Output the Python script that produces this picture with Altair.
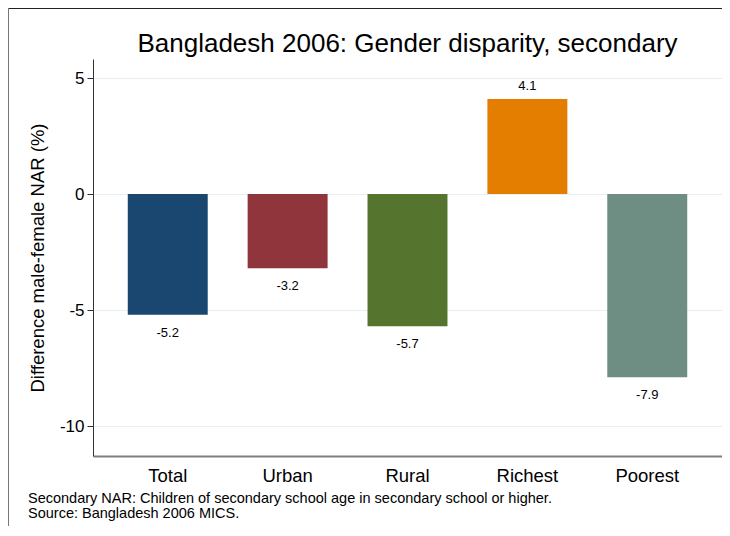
import altair as alt
import pandas as pd

categories = ["Total", "Urban", "Rural", "Richest", "Poorest"]
values = [-5.2, -3.2, -5.7, 4.1, -7.9]
colors = ["#1a476f", "#90353b", "#55752f", "#e37e00", "#6e8e84"]
y_ticks = [-10, -5, 0, 5]
title_text = "Bangladesh 2006: Gender disparity, secondary"
y_title = "Difference male-female NAR (%)"
notes = [
    "Secondary NAR: Children of secondary school age in secondary school or higher.",
    "Source: Bangladesh 2006 MICS.",
]

df = pd.DataFrame({"cat": categories, "val": values})
df["label"] = df["val"].map(lambda v: f"{v:.1f}")

FONT = "Liberation Sans"
W, H = 629, 397

x_enc = alt.X(
    "cat:N",
    sort=categories,
    scale=alt.Scale(paddingInner=0.333, paddingOuter=0.29),
    axis=alt.Axis(
        title=None, labelAngle=0, ticks=False, domainColor="#7f7f7f",
        domainWidth=2, labelFontSize=18.5, labelPadding=10, labelFont=FONT,
        labelColor="#000000",
    ),
)
y_scale = alt.Scale(domain=[-11.29, 5.82], nice=False, zero=False)

base = alt.Chart(df)

bars = base.mark_bar().encode(
    x=x_enc,
    y=alt.Y(
        "val:Q",
        scale=y_scale,
        axis=alt.Axis(
            values=y_ticks, grid=True, gridColor="#e6eef1", gridWidth=1,
            tickSize=6, tickColor="#333333", domainColor="#333333",
            labelFontSize=17, labelPadding=3, labelFont=FONT, labelColor="#000000",
            labelExpr="'' + datum.value",
            title=y_title, titleFontSize=18.5, titleFont=FONT,
            titleFontWeight="normal", titleColor="#000000", titlePadding=12,
        ),
    ),
    y2=alt.datum(0),
    color=alt.Color("cat:N", scale=alt.Scale(domain=categories, range=colors), legend=None),
)

pos_labels = base.transform_filter("datum.val >= 0").mark_text(
    baseline="alphabetic", dy=-9, fontSize=13, font=FONT, color="#000000"
).encode(x=alt.X("cat:N", sort=categories), y=alt.Y("val:Q", scale=y_scale), text="label:N")

neg_labels = base.transform_filter("datum.val < 0").mark_text(
    baseline="alphabetic", dy=22, fontSize=13, font=FONT, color="#000000"
).encode(x=alt.X("cat:N", sort=categories), y=alt.Y("val:Q", scale=y_scale), text="label:N")

one = pd.DataFrame({"title": [title_text], "notes": ["\n".join(notes)]})

title_layer = alt.Chart(one).mark_text(
    align="center", baseline="alphabetic", fontSize=26, font=FONT, color="#000000"
).encode(x=alt.value(W / 2), y=alt.value(-7), text="title:N")

note_layer = alt.Chart(one).mark_text(
    align="left", baseline="alphabetic", fontSize=14.5, font=FONT, color="#000000",
    lineBreak="\n", lineHeight=15,
).encode(x=alt.value(-65), y=alt.value(444), text="notes:N")

frame_top = alt.Chart(one).mark_rule(color="#222222", strokeWidth=1.2).encode(
    x=alt.value(-85), x2=alt.value(W + 10), y=alt.value(-50.5)
)
frame_left = alt.Chart(one).mark_rule(color="#777777", strokeWidth=1).encode(
    x=alt.value(-84.5), y=alt.value(-51), y2=alt.value(H + 90)
)

chart = alt.layer(
    bars, pos_labels, neg_labels, title_layer, note_layer, frame_top, frame_left
).properties(
    width=W,
    height=H,
    autosize=alt.AutoSizeParams(type="none"),
    padding={"left": 85, "top": 51, "right": 0, "bottom": 70},
    background="#ffffff",
).configure_view(stroke=None)

chart.save("out.html", embed_options={"renderer": "svg", "actions": False})
